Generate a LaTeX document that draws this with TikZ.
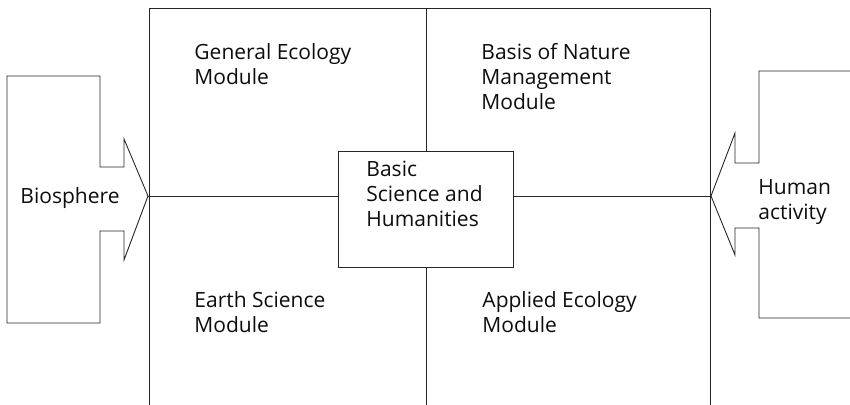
\documentclass[tikz,border=0pt]{standalone}
\usepackage{fontspec}
\setmainfont{Open Sans}
\begin{document}
\begin{tikzpicture}[x=1pt,y=-1pt,line width=0.9pt,color=black!85,
    lbl/.style={anchor=north west,inner sep=0pt,align=left,text=black!95,
      font=\fontsize{21}{25}\selectfont}]
    \useasboundingbox (0,0) rectangle (850,404);
    % frame of the four modules
    \coordinate (F0) at (149,405);
    \coordinate (F1) at (149,8);
    \coordinate (F2) at (710,8);
    \coordinate (F3) at (710,405);
    \draw (F0) -- (F1) -- (F2) -- (F3);
    \node[draw,minimum width=175pt,minimum height=116pt,inner sep=0pt,anchor=north west] (core) at (338,151) {};
    \coordinate (M0) at (core.north |- F1);
    \coordinate (M1) at (core.south |- F0);
    \draw (M0) -- (core.north);
    \draw (core.south) -- (M1);
    % left arrow
    \coordinate (tipL) at (148,196);
    \draw (100,76) -- (100,167) -- (124,167) -- (124,139) -- (tipL) -- (124,260)
      -- (124,231) -- (100,231) -- (100,323) -- (7,323) -- (7,76) -- cycle;
    % right arrow
    \coordinate (tipR) at (711,196);
    \draw (852,71) -- (759,71) -- (759,163) -- (735,163) -- (735,133) -- (tipR)
      -- (735,255) -- (735,228) -- (759,228) -- (759,318) -- (852,318);
    \draw (tipL) -- (tipL -| core.west);
    \draw (tipR -| core.east) -- (tipR);
    % labels
    \node[lbl] (gen) at (194,43) {General Ecology\\Module};
    \node[lbl] (nat) at (481,43) {Basis of Nature\\Management\\Module};
    \node[lbl] (ear) at (194,291) {Earth Science\\Module};
    \node[lbl] (app) at (482,291) {Applied Ecology\\Module};
    \node[lbl] (bas) at (366,161) {Basic\\Science and\\Humanities};
    \node[lbl] (bio) at (20,187) {Biosphere};
    \node[lbl] (hum) at (758,179) {Human\\activity};
  \end{tikzpicture}
\end{document}
